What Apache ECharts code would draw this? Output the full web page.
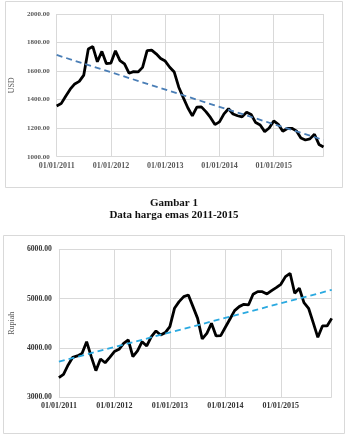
<!DOCTYPE html>
<html>
<head>
<meta charset="utf-8">
<script src="https://cdn.jsdelivr.net/npm/echarts@6/dist/echarts.min.js"></script>
<style>
  html, body { margin: 0; padding: 0; background: #fff; }
  #main { width: 348px; height: 437px; }
</style>
</head>
<body>
<div id="main"></div>
<script type="text/javascript">
	// bulan Jan 2011 - Des 2015
	var months = [];
	for (var y = 2011; y <= 2015; y++) {
		for (var m = 1; m <= 12; m++) {
			months.push('01/' + (m < 10 ? '0' + m : m) + '/' + y);
		}
	}

	// harga emas (USD)
	var hargaUsd = [1356, 1372, 1424, 1473, 1510, 1528, 1572, 1755, 1772, 1665, 1738, 1652,
		1656, 1742, 1673, 1650, 1585, 1596, 1594, 1626, 1744, 1747, 1721, 1688,
		1670, 1627, 1593, 1487, 1414, 1343, 1286, 1347, 1349, 1316, 1275, 1225,
		1244, 1300, 1336, 1299, 1287, 1279, 1311, 1296, 1239, 1222, 1176, 1201,
		1251, 1227, 1178, 1198, 1199, 1181, 1131, 1117, 1125, 1157, 1086, 1068];
	var trendUsd = [1713, 1117]; // awal, akhir

	// harga emas (Rupiah)
	var hargaRp = [3400, 3466, 3655, 3810, 3838, 3890, 4128, 3824, 3540, 3777, 3700, 3810,
		3926, 3973, 4095, 4162, 3824, 3939, 4128, 4040, 4230, 4345, 4264, 4311,
		4432, 4804, 4940, 5040, 5074, 4838, 4600, 4182, 4297, 4500, 4243, 4250,
		4419, 4588, 4757, 4838, 4885, 4872, 5088, 5142, 5142, 5095, 5162, 5223,
		5290, 5446, 5514, 5108, 5210, 4919, 4804, 4514, 4216, 4446, 4446, 4600];
	var trendRp = [3723, 5176];

	var last = months.length - 1;
	function trendData(t) {
		return months.map(function(d, i) {
			return i === 0 ? t[0] : (i === last ? t[1] : null);
		});
	}
	function yearTick(i) { return i % 12 === 0 || i === last; }

	var serif = 'Liberation Serif';
	var grid1 = { left: 56, right: 24.5, top: 14, bottom: 280.3 };
	var grid2 = { left: 49.3, right: 16.3, top: 249.3, bottom: 39.7 };

	function xAxis(idx, color) {
		return {
			type: 'category', gridIndex: idx, data: months, boundaryGap: false,
			axisLine: { show: false }, axisTick: { show: false },
			axisLabel: {
				interval: function(i) { return i % 12 === 0; },
				margin: 5, fontFamily: serif, fontWeight: 'bold', fontSize: 8, color: color
			},
			splitLine: { show: true, interval: function(i) { return yearTick(i); }, lineStyle: { color: '#d9d9d9', width: 1 } }
		};
	}
	function yAxis(idx, name, min, max, step, fs, color, gap) {
		return {
			type: 'value', gridIndex: idx, min: min, max: max, interval: step,
			name: name, nameLocation: 'middle', nameGap: gap, nameRotate: 90,
			nameTextStyle: { fontFamily: serif, fontSize: 8, color: '#595959' },
			axisLine: { show: false }, axisTick: { show: false },
			axisLabel: {
				margin: 7, fontFamily: serif, fontWeight: 'bold', fontSize: fs, color: color,
				formatter: function(v) { return v.toFixed(2); }
			},
			splitLine: { lineStyle: { color: '#d9d9d9', width: 1 } }
		};
	}

	var chart = echarts.init(document.getElementById('main'), null, { renderer: 'canvas' });
	chart.setOption({
		animation: false,
		backgroundColor: '#fff',
		graphic: [
			{ type: 'rect', shape: { x: 5.5, y: 1.5, width: 337, height: 186 }, style: { fill: 'none', stroke: '#d9d9d9', lineWidth: 1 } },
			{ type: 'rect', shape: { x: 3.5, y: 235.5, width: 341, height: 198 }, style: { fill: 'none', stroke: '#d9d9d9', lineWidth: 1 } }
		],
		title: [
			{ text: 'Gambar 1', left: 'center', top: 198, padding: 0,
				textStyle: { fontFamily: serif, fontWeight: 'bold', fontSize: 11, color: '#111' } },
			{ text: 'Data harga emas 2011-2015', left: 'center', top: 210, padding: 0,
				textStyle: { fontFamily: serif, fontWeight: 'bold', fontSize: 11, color: '#111' } }
		],
		grid: [grid1, grid2],
		xAxis: [xAxis(0, '#595959'), xAxis(1, '#333')],
		yAxis: [
			yAxis(0, 'USD', 1000, 2000, 200, 7, '#595959', 34),
			yAxis(1, 'Rupiah', 3000, 6000, 1000, 7.7, '#333', 41)
		],
		series: [
			{ type: 'line', xAxisIndex: 0, yAxisIndex: 0, data: hargaUsd, showSymbol: false,
				lineStyle: { color: '#000', width: 2.8 }, z: 3 },
			{ type: 'line', xAxisIndex: 0, yAxisIndex: 0, data: trendData(trendUsd), connectNulls: true, showSymbol: false,
				lineStyle: { color: '#4a7eb6', width: 1.8, type: [6, 4] }, z: 4 },
			{ type: 'line', xAxisIndex: 1, yAxisIndex: 1, data: hargaRp, showSymbol: false,
				lineStyle: { color: '#000', width: 2.8 }, z: 3 },
			{ type: 'line', xAxisIndex: 1, yAxisIndex: 1, data: trendData(trendRp), connectNulls: true, showSymbol: false,
				lineStyle: { color: '#2aa9e0', width: 1.8, type: [6, 4] }, z: 4 }
		]
	});
</script>
</body>
</html>
